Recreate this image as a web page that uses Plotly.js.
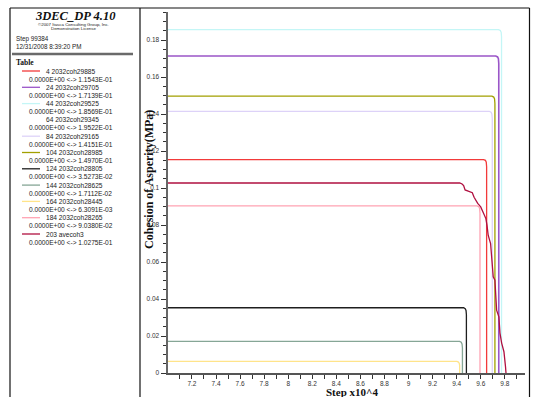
<!DOCTYPE html>
<html><head><meta charset="utf-8">
<script src="https://cdn.plot.ly/plotly-3.0.1.min.js"></script>
<style>html,body{margin:0;padding:0;background:#fff;} #chart{width:533px;height:397px;}</style>
</head><body><div id="chart"></div>
<script>
// ---- data (step in units of 10^4, cohesion in MPa) ----
const seriesNames = ['4 2032coh29885','24 2032coh29705','44 2032coh29525','64 2032coh29345','84 2032coh29165','104 2032coh28985','124 2032coh28805','144 2032coh28625','164 2032coh28445','184 2032coh28265','203 avecoh3'];

const step_4   = [7.0, 9.624, 9.639, 9.646, 9.649, 9.649];
const coh_4    = [0.11543, 0.11543, 0.1150, 0.1140, 0.1115, 0];
const step_24  = [7.0, 9.725, 9.740, 9.747, 9.750, 9.750];
const coh_24   = [0.17139, 0.17139, 0.1709, 0.1699, 0.1674, 0];
const step_44  = [7.0, 9.748, 9.763, 9.770, 9.773, 9.773];
const coh_44   = [0.18569, 0.18569, 0.1852, 0.1842, 0.1817, 0];
const step_64  = [7.0, 9.765, 9.780, 9.787, 9.790, 9.790];
const coh_64   = [0.19522, 0.19522, 0.1947, 0.1937, 0.1912, 0];
const step_84  = [7.0, 9.671, 9.686, 9.693, 9.696, 9.696];
const coh_84   = [0.14151, 0.14151, 0.1410, 0.1400, 0.1375, 0];
const step_104 = [7.0, 9.693, 9.708, 9.715, 9.718, 9.718];
const coh_104  = [0.14970, 0.14970, 0.1492, 0.1482, 0.1457, 0];
const step_124 = [7.0, 9.458, 9.471, 9.478, 9.481, 9.481];
const coh_124  = [0.035273, 0.035273, 0.0348, 0.0338, 0.0315, 0];
const step_144 = [7.0, 9.425, 9.438, 9.445, 9.448, 9.448];
const coh_144  = [0.017112, 0.017112, 0.0166, 0.0156, 0.0135, 0];
const step_164 = [7.0, 9.402, 9.415, 9.422, 9.425, 9.425];
const coh_164  = [0.0063091, 0.0063091, 0.0059, 0.0052, 0.0040, 0];
const step_184 = [7.0, 9.569, 9.584, 9.591, 9.594, 9.594];
const coh_184  = [0.09038, 0.09038, 0.0899, 0.0889, 0.0864, 0];
const step_203 = [7.0, 9.425, 9.445, 9.458, 9.470, 9.495, 9.530, 9.545, 9.575, 9.600, 9.622, 9.643, 9.652, 9.662, 9.682, 9.690, 9.704, 9.718, 9.732, 9.751, 9.760, 9.774, 9.793, 9.806, 9.810];
const coh_203  = [0.10275, 0.10275, 0.1022, 0.1013, 0.0990, 0.0982, 0.0975, 0.0950, 0.0917, 0.0898, 0.0862, 0.0835, 0.0800, 0.0745, 0.0700, 0.0619, 0.0520, 0.0502, 0.0340, 0.0304, 0.0216, 0.0162, 0.0115, 0.0034, 0];

const seriesSteps = [step_4, step_24, step_44, step_64, step_84, step_104, step_124, step_144, step_164, step_184, step_203];
const seriesCoh   = [coh_4, coh_24, coh_44, coh_64, coh_84, coh_104, coh_124, coh_144, coh_164, coh_184, coh_203];
const seriesMin = 0;

const headerTitle = '3DEC_DP 4.10';
const headerCopy1 = '©2007 Itasca Consulting Group, Inc.';
const headerCopy2 = 'Demonstration License';
const headerStep = 'Step 99384';
const headerDate = '12/31/2008 8:39:20 PM';
const xTitle = 'Step x10^4';
const yTitle = 'Cohesion of Asperity(MPa)';

// ---- styles ----
const colors = ['#f23a3a','#9a55c8','#c4f6f6','#ffffff','#ddd2f8','#a2a000','#1e1e1e','#86a696','#ffe48a','#ffa3b3','#b01040'];

const W=533,H=397,L=168,R=8,T=12,B=24;
const pw=W-L-R, ph=H-T-B;
const px = x => (x-L)/pw;
const py = y => (H-B-y)/ph;

function fmt(v){
  if(v===0) return '0.0000E+00';
  let e=Math.floor(Math.log10(Math.abs(v)));
  let m=v/Math.pow(10,e);
  if(Math.abs(m)>=9.99995){m/=10;e+=1;}
  const s=e<0?'-':'+'; const ae=Math.abs(e);
  return m.toFixed(4)+'E'+s+(ae<10?'0':'')+ae;
}

const traces = seriesNames.map((n,i)=>({
  type:'scatter', mode:'lines', name:n,
  x: seriesSteps[i], y: seriesCoh[i],
  line:{color:colors[i], width:(i===1?1.6:1.3)},
  showlegend:false, hoverinfo:'skip'
}));

const shapes = [];
const ann = [];
function hline(x0,x1,y,color,w){shapes.push({type:'line',xref:'paper',yref:'paper',x0:px(x0),x1:px(x1),y0:py(y),y1:py(y),line:{color:color,width:w}});}
function vline(x,y0,y1,color,w){shapes.push({type:'line',xref:'paper',yref:'paper',x0:px(x),x1:px(x),y0:py(y0),y1:py(y1),line:{color:color,width:w}});}
function txt(t,x,y,size,opts){ann.push(Object.assign({text:t,xref:'paper',yref:'paper',x:px(x),y:py(y),showarrow:false,xanchor:'left',yanchor:'middle',borderpad:0,font:{family:'Liberation Sans, Arial, sans-serif',size:size,color:'#222'}},opts||{}));}

// frame
hline(10,529.5,8,'#111',1.2);
vline(10,8,397,'#111',1.2);
vline(140,8,397,'#111',1.2);
vline(529.5,8,397,'#111',1.2);

// header panel
txt('<b><i>'+headerTitle+'</i></b>',75,16,12.5,{xanchor:'center',font:{family:'Liberation Serif, Times New Roman, serif',size:12.5,color:'#111'}});
txt(headerCopy1,73,25,4.4,{xanchor:'center'});
txt(headerCopy2,73,29,4.4,{xanchor:'center'});
txt(headerStep,15,39,6.3);
txt(headerDate,15,47,6.3);
hline(12,133,54,'#6a6a6a',2.5);
txt('<b>Table</b>',15,62,7.5,{font:{family:'Liberation Serif, Times New Roman, serif',size:7.5,color:'#111'}});

seriesNames.forEach((n,i)=>{
  const y = 71 + i*16.3;
  if(colors[i] !== '#ffffff') hline(22,40,y,colors[i],1.3);
  txt(n,45,y,6.6);
  const mx = Math.max.apply(null, seriesCoh[i]);
  txt(fmt(seriesMin)+' &lt;-> '+fmt(mx),27.5,y+8,6.6);
});

// axis titles
txt('<b>'+yTitle+'</b>',149,180,12,{xanchor:'center',textangle:-90,font:{family:'Liberation Serif, Times New Roman, serif',size:12,color:'#111'}});
txt('<b>'+xTitle+'</b>',352,391.5,11,{xanchor:'center',font:{family:'Liberation Serif, Times New Roman, serif',size:11,color:'#111'}});

const layout = {
  width:W, height:H,
  margin:{l:L,r:R,t:T,b:B,pad:0},
  paper_bgcolor:'#fff', plot_bgcolor:'#fff',
  showlegend:false,
  xaxis:{range:[7.001,9.968], tick0:7, dtick:0.2, ticks:'outside', ticklen:4, tickwidth:1, tickcolor:'#333',
    showline:true, linecolor:'#555', linewidth:1.5, showgrid:false, zeroline:false, ticklabelstandoff:-2.5,
    tickfont:{family:'Liberation Sans, Arial, sans-serif',size:6.5,color:'#333'},
    minor:{dtick:0.1, tick0:7, ticks:'outside', ticklen:4, tickcolor:'#333', showgrid:false}},
  yaxis:{range:[0,0.1952], tick0:0, dtick:0.02, ticks:'outside', ticklen:5, tickwidth:1, tickcolor:'#333',
    showline:true, linecolor:'#666', linewidth:2.5, showgrid:false, zeroline:false,
    tickfont:{family:'Liberation Sans, Arial, sans-serif',size:6.5,color:'#333'},
    minor:{dtick:0.005, tick0:0, ticks:'outside', ticklen:3, tickcolor:'#333', showgrid:false}},
  shapes:shapes, annotations:ann
};
Plotly.newPlot('chart', traces, layout, {staticPlot:true, displayModeBar:false});
</script></body></html>
